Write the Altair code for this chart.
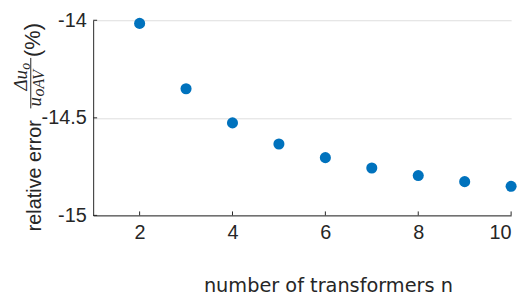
import altair as alt
import pandas as pd

# data
n_values = [2, 3, 4, 5, 6, 7, 8, 9, 10]
rel_error = [-14.016, -14.351, -14.526, -14.634, -14.704, -14.757, -14.796, -14.827, -14.851]
x_ticks = [2, 4, 6, 8, 10]
y_ticks = [-15, -14.5, -14]
x_title = "number of transformers n"

TOP = 11
W, H = 422, 197
AX = "#262626"
SANS = "Liberation Sans"
SERIF = "Liberation Serif"

df = pd.DataFrame({"n": n_values, "err": rel_error})
xs = alt.Scale(domain=[1, 10], nice=False, zero=False)
ys = alt.Scale(domain=[-15, -14], nice=False, zero=False)

points = alt.Chart(df).mark_circle(size=125, opacity=1, color="#0072BD").encode(
    x=alt.X("n:Q", scale=xs,
            axis=alt.Axis(values=x_ticks, grid=False, ticks=False, domainColor=AX,
                          labelFont=SANS, labelFontSize=20, labelColor=AX, labelPadding=7,
                          title=x_title, titleFont="DejaVu Sans", titleFontSize=19.5,
                          titleFontWeight="normal", titleColor=AX, titleX=237, titleY=77,
                          titleAlign="center", titleBaseline="alphabetic", titleAngle=0)),
    y=alt.Y("err:Q", scale=ys,
            axis=alt.Axis(values=y_ticks, grid=True, gridColor="#dedede", ticks=False,
                          domainColor=AX, labelFont=SANS, labelFontSize=20, labelColor=AX,
                          labelPadding=7, title=None,
                          labelExpr="replace(format(datum.value, '.1~f'), '\u2212', '-')")),
)

xt = alt.Chart(pd.DataFrame({"v": x_ticks})).mark_rule(color=AX, strokeWidth=1).encode(
    x=alt.X("v:Q", scale=xs), y=alt.value(H - 4), y2=alt.value(H))
yt = alt.Chart(pd.DataFrame({"v": y_ticks})).mark_rule(color=AX, strokeWidth=1).encode(
    y=alt.Y("v:Q", scale=ys), x=alt.value(0), x2=alt.value(4))

ox, oy = 94, 8 + TOP  # plot origin on page


def txt(s, px, py, font, size, style="normal"):
    return alt.Chart(pd.DataFrame({"t": [s]})).mark_text(
        angle=270, align="left", baseline="alphabetic", font=font, fontSize=size,
        fontStyle=style, color=AX).encode(text="t:N", x=alt.value(px - ox), y=alt.value(py - oy))


title_parts = [
    txt("relative error", 41, 232, SANS, 20),
    txt("(%)", 40, 56, SANS, 22),
    txt("\u0394u", 27, 90, SERIF, 19, "italic"),
    txt("o", 30, 69, SERIF, 14, "italic"),
    txt("u", 41, 106, SERIF, 19, "italic"),
    txt("oAV", 44.5, 96, SERIF, 16, "italic"),
]
bar = alt.Chart(pd.DataFrame({"a": [0]})).mark_rule(color=AX, strokeWidth=1).encode(
    x=alt.value(31 - ox), y=alt.value(57 - oy), y2=alt.value(108 - oy))

chart = alt.layer(points, xt, yt, bar, *title_parts).properties(
    width=W, height=H, autosize="none",
    padding={"left": 86, "top": TOP, "right": 12, "bottom": 80},
).configure_view(stroke=None)

chart.save("out.html", embed_options={"renderer": "svg", "actions": False})
